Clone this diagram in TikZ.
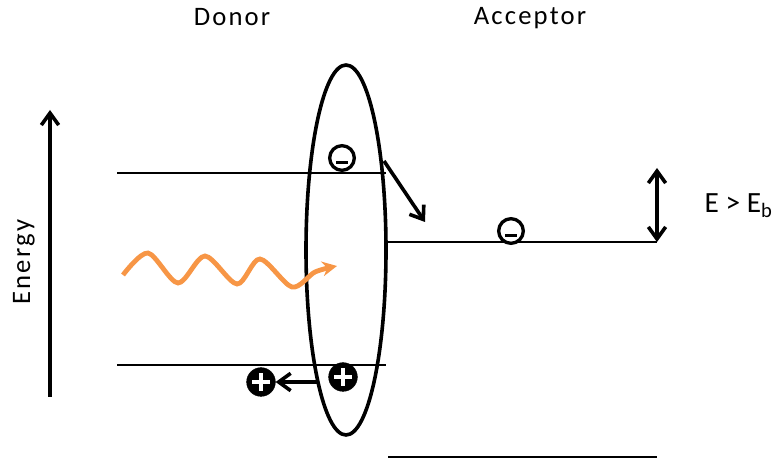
\documentclass[tikz,border=0pt]{standalone}
\usepackage{fontspec}
\setmainfont{Carlito}
\newfontfamily\widefont[LetterSpace=8]{Carlito}
\usetikzlibrary{arrows.meta}
\definecolor{photon}{RGB}{247,150,70}

\tikzset{
  lvl/.style={line width=1pt},
  thickln/.style={line width=2.7pt},
  elec/.style={circle, draw, fill=white, line width=2.5pt, minimum size=18.5pt, inner sep=0pt},
  hole/.style={circle, draw, fill=black, text=white, minimum size=21.5pt, inner sep=0pt},
  lbl/.style={font=\widefont\fontsize{20}{24}\selectfont, anchor=base},
}
\newcommand{\minusbar}{\raisebox{-4.5pt}[0pt][0pt]{\rule{9pt}{2.5pt}}}
\newcommand{\plusbar}{\makebox[0pt]{\raisebox{-1.6pt}[0pt][0pt]{\rule{13pt}{3.2pt}}}\makebox[0pt]{\raisebox{-6.5pt}[0pt][0pt]{\rule{3.2pt}{13pt}}}}

\begin{document}
\begin{tikzpicture}[x=0.75pt, y=-0.75pt, >={Straight Barb[length=9pt,width=13pt]}]
	\useasboundingbox (0,0) rectangle (775,459);
	
	% 标签
	\node[lbl] (donor) at (232,26) {Donor};
	\node[lbl] (acc) at (530,25) {Acceptor};
	\node[lbl, rotate=90] (energy) at (30,262) {Energy};
	\node[font=\fontsize{22}{26}\selectfont, anchor=base west] (eb) at (700,213) {E > E\textsubscript{b}};
	
	% 能量轴
	\coordinate (e0) at (50,397);
	\coordinate (e1) at (50,110);
	\draw[->, thickln] (e0) -- (e1);
	
	% 能级
	\draw[lvl] (117,173) -- (386,173);
	\draw[lvl] (117,365) -- (386,365);
	\draw[lvl] (386,242) -- (657,242);
	\draw[lvl] (388,457) -- (657,457);
	
	% 激子
	\draw[thickln] (346,250) ellipse [x radius=40, y radius=185];
	
	% 光子
	\draw[line width=3.6pt, photon, -{Stealth[length=11pt,width=11pt]}] plot[smooth] coordinates {(123,275) (148,253) (178,283) (205,256) (237,284) (260,259) (292,287) (315,272) (337,266)};
	
	% 电子与空穴
	\node[elec] (m1) at (342,158) {\minusbar};
	\node[elec] (m2) at (511,231) {\minusbar};
	\node[hole] (p1) at (343,377) {\plusbar};
	\node[hole] (p2) at (261,382) {\plusbar};
	
	% 电荷转移
	\coordinate (t0) at (384,161);
	\coordinate (t1) at (425,222);
	\draw[->, thickln] (t0) -- (t1);
	\draw[->, thickln, shorten <=8pt] (p1.west |- p2) -- (p2.east);
	
	% 结合能
	\coordinate (b0) at (657,168);
	\coordinate (b1) at (657,242);
	\draw[<->, thickln] (b1) -- (b0);
\end{tikzpicture}
\end{document}
